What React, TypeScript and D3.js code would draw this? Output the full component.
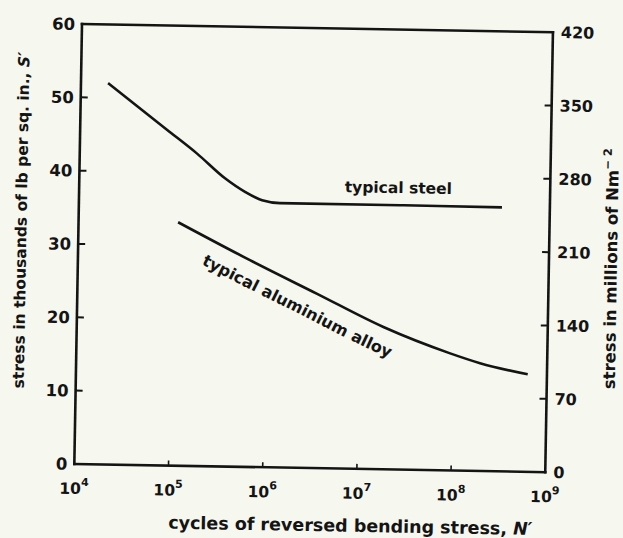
import React from "react";
import * as d3 from "d3";

// ---- data ----
const X_TICKS = [1e4, 1e5, 1e6, 1e7, 1e8, 1e9];
const LEFT_TICKS = [0, 10, 20, 30, 40, 50, 60];
const RIGHT_TICKS = [0, 70, 140, 210, 280, 350, 420];

// cycles N', stress S' (thousands of lb per sq. in.)
const STEEL_N = [1.94e4, 8.4e4, 1.76e5, 3.52e5, 5.77e5, 8.8e5, 1.36e6, 2.6e7, 3.1e8];
const STEEL_S = [52.0, 45.75, 42.6, 39.3, 37.5, 36.4, 36.05, 36.05, 36.0];

const ALU_N = [1.14e5, 6.7e5, 3.47e6, 1.8e7, 9.3e7, 1.94e8, 6.25e8];
const ALU_S = [33.2, 28.2, 23.8, 19.4, 15.97, 14.7, 13.3];

const STEEL_LABEL = "typical steel";
const STEEL_LABEL_N = 6.6e6;
const STEEL_LABEL_S = 37.7;
const ALU_LABEL = "typical aluminium alloy";

const FONT = "'DejaVu Sans', 'Liberation Sans', Arial, sans-serif";
const INK = "#141414";

export default function App() {
  const width = 623;
  const height = 538;
  const W = 471;
  const H = 440;

  const x = d3.scaleLog().domain([1e4, 1e9]).range([0, W]);
  const yL = d3.scaleLinear().domain([0, 60]).range([H, 0]);
  const yR = d3.scaleLinear().domain([0, 420]).range([H, 0]);

  const steel: [number, number][] = STEEL_N.map((n, i) => [n, STEEL_S[i]]);
  const alu: [number, number][] = ALU_N.map((n, i) => [n, ALU_S[i]]);

  const line = d3
    .line<[number, number]>()
    .x((d) => x(d[0]))
    .y((d) => yL(d[1]))
    .curve(d3.curveMonotoneX);

  // offset path (below the aluminium curve) for the rotated label
  const aluPx = alu.map((d) => [x(d[0]), yL(d[1])] as [number, number]);
  const OFF = 26;
  const offPts = aluPx.map((p, i) => {
    const a = aluPx[Math.max(0, i - 1)];
    const b = aluPx[Math.min(aluPx.length - 1, i + 1)];
    const tx = b[0] - a[0];
    const ty = b[1] - a[1];
    const len = Math.hypot(tx, ty) || 1;
    return [p[0] + (-ty / len) * OFF, p[1] + (tx / len) * OFF] as [number, number];
  });
  const pxLine = d3.line<[number, number]>().curve(d3.curveMonotoneX);

  return (
    <svg
      width={width}
      height={height}
      style={{ position: "absolute", left: 0, top: 0, display: "block" }}
      fontFamily={FONT}
    >
      <rect width={width} height={height} fill="#f6f7ee" />
      <defs>
        <path id="aluLabelPath" d={pxLine(offPts) || ""} />
      </defs>
      <g transform="translate(82,24) rotate(1)" fill={INK}>
        {/* frame */}
        <g stroke={INK} strokeWidth={2.6} fill="none" strokeLinecap="square">
          <line x1={0} y1={0} x2={W} y2={0} />
          <line x1={0} y1={0} x2={0} y2={H} />
          <line x1={W} y1={0} x2={W} y2={H} />
          <line x1={0} y1={H} x2={W} y2={H} />
        </g>

        {/* left ticks */}
        {LEFT_TICKS.map((t) => (
          <g key={"l" + t}>
            {t > 0 && t < 60 && (
              <line x1={0} x2={7} y1={yL(t)} y2={yL(t)} stroke={INK} strokeWidth={2} />
            )}
            <text
              x={-7}
              y={yL(t)}
              dy="0.36em"
              textAnchor="end"
              fontSize={16.5}
              fontWeight="bold"
            >
              {t}
            </text>
          </g>
        ))}

        {/* right ticks */}
        {RIGHT_TICKS.map((t) => (
          <g key={"r" + t}>
            {t > 0 && t < 420 && (
              <line x1={W - 7} x2={W} y1={yR(t)} y2={yR(t)} stroke={INK} strokeWidth={2} />
            )}
            <text
              x={W + 8}
              y={yR(t)}
              dy="0.36em"
              textAnchor="start"
              fontSize={16}
              fontWeight="bold"
            >
              {t}
            </text>
          </g>
        ))}

        {/* bottom ticks */}
        {X_TICKS.map((t) => {
          const e = Math.round(Math.log10(t));
          return (
            <g key={"x" + t}>
              {t > 1e4 && t < 1e9 && (
                <line x1={x(t)} x2={x(t)} y1={H} y2={H - 5} stroke={INK} strokeWidth={1.6} />
              )}
              <text x={x(t)} y={H + 30} textAnchor="middle" fontSize={15.5} fontWeight="bold">
                <tspan>10</tspan>
                <tspan dy={-8} fontSize={11}>
                  {e}
                </tspan>
              </text>
            </g>
          );
        })}

        {/* curves */}
        <path d={line(steel) || ""} fill="none" stroke={INK} strokeWidth={2.6} />
        <path d={line(alu) || ""} fill="none" stroke={INK} strokeWidth={2.6} />

        {/* labels */}
        <text
          x={x(STEEL_LABEL_N)}
          y={yL(STEEL_LABEL_S)}
          fontSize={15.5}
          fontWeight="bold"
        >
          {STEEL_LABEL}
        </text>
        <text fontSize={16} fontWeight="bold">
          <textPath href="#aluLabelPath" startOffset={40}>
            {ALU_LABEL}
          </textPath>
        </text>

        {/* axis titles */}
        <text
          transform={`translate(-52,${H * 0.448}) rotate(-90)`}
          textAnchor="middle"
          fontSize={15.5}
          fontWeight="bold"
        >
          stress in thousands of lb per sq. in., <tspan fontStyle="italic">S′</tspan>
        </text>
        <text
          transform={`translate(${W + 68},${H * 0.535}) rotate(-90)`}
          textAnchor="middle"
          fontSize={16.5}
          fontWeight="bold"
        >
          stress in millions of Nm
          <tspan dy={-7} fontSize={11.5}>
            {"− 2"}
          </tspan>
        </text>
        <text x={277} y={H + 63} textAnchor="middle" fontSize={17.5} fontWeight="bold">
          cycles of reversed bending stress, <tspan fontStyle="italic">N′</tspan>
        </text>
      </g>
    </svg>
  );
}
